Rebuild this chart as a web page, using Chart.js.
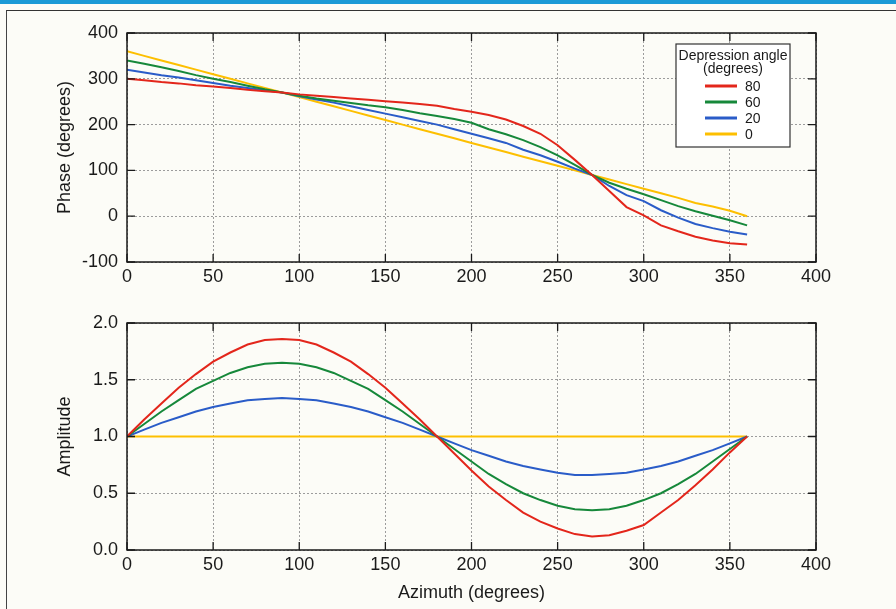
<!DOCTYPE html>
<html>
<head>
<meta charset="utf-8">
<script src="https://cdn.jsdelivr.net/npm/chart.js@4"></script>
<style>
  body { margin: 0; background: #fcfcf7; width: 896px; height: 609px; overflow: hidden; position: relative; }
  #strip { position: absolute; left: 0; top: 0; width: 896px; height: 4px; background: #1b9ad6; }
  #frame { position: absolute; left: 6px; top: 10px; width: 900px; height: 610px;
           border-left: 1.5px solid #444; border-top: 1.5px solid #333; }
  canvas { position: absolute; left: 0; }
  #phase { top: 0; }
  #amp { top: 300px; }
</style>
</head>
<body>
<div id="strip"></div>
<div id="frame"></div>
<canvas id="phase" width="896" height="300"></canvas>
<canvas id="amp" width="896" height="309"></canvas>
<script>
// azimut 0..360 ทุก 10 องศา
const azimuth = [0,10,20,30,40,50,60,70,80,90,100,110,120,130,140,150,160,170,180,
  190,200,210,220,230,240,250,260,270,280,290,300,310,320,330,340,350,360];

const angleLabels = ['80', '60', '20', '0'];
const lineColors = ['#e3261b', '#16883a', '#2a5cc8', '#fdbf00'];

// เฟส (องศา)
const phase80 = [300,297,293,290,286,283,280,276,273,270,266,263,260,257,254,251,248,245,241,
  234,228,221,211,197,180,155,123,90,55,20,2,-20,-33,-45,-53,-59,-62];
const phase60 = [340,333,325,317,308,300,293,285,277,270,263,257,252,247,242,238,232,225,219,
  212,204,190,179,166,151,133,112,90,73,60,48,35,22,11,1,-9,-20];
const phase20 = [320,314,308,303,297,291,285,280,275,270,262,255,248,240,232,224,216,208,200,
  190,180,170,160,145,133,119,104,90,66,46,33,13,-3,-17,-26,-34,-40];
const phase0 = [360,350,340,330,320,310,300,290,280,270,260,250,240,230,220,210,200,190,180,
  170,160,150,140,130,120,110,100,90,80,70,60,50,40,29,21,12,0];

// แอมพลิจูด
const amp80 = [1.00,1.15,1.29,1.43,1.55,1.66,1.74,1.81,1.85,1.86,1.85,1.81,1.74,1.66,1.55,1.43,1.29,1.15,1.00,
  0.85,0.70,0.56,0.44,0.33,0.25,0.19,0.14,0.12,0.13,0.17,0.22,0.33,0.44,0.57,0.71,0.86,1.00];
const amp60 = [1.00,1.11,1.22,1.32,1.42,1.49,1.56,1.61,1.64,1.65,1.64,1.61,1.56,1.49,1.42,1.32,1.22,1.11,1.00,
  0.89,0.78,0.67,0.58,0.50,0.44,0.39,0.36,0.35,0.36,0.39,0.44,0.50,0.58,0.67,0.78,0.89,1.00];
const amp20 = [1.00,1.06,1.12,1.17,1.22,1.26,1.29,1.32,1.33,1.34,1.33,1.32,1.29,1.26,1.22,1.17,1.12,1.06,1.00,
  0.94,0.88,0.83,0.78,0.74,0.71,0.68,0.66,0.66,0.67,0.68,0.71,0.74,0.78,0.83,0.88,0.94,1.00];
const amp0 = [1,1,1,1,1,1,1,1,1,1,1,1,1,1,1,1,1,1,1,1,1,1,1,1,1,1,1,1,1,1,1,1,1,1,1,1,1];

const phaseSeries = [phase80, phase60, phase20, phase0];
const ampSeries = [amp80, amp60, amp20, amp0];

const FONT = 'Liberation Sans, Arial, Helvetica, sans-serif';
Chart.defaults.font.family = FONT;
Chart.defaults.color = '#1a1a1a';

function makeDatasets(series) {
  return series.map((vals, i) => ({
    label: angleLabels[i],
    data: vals.map((v, k) => ({ x: azimuth[k], y: v })),
    borderColor: lineColors[i],
    borderWidth: 2,
    pointRadius: 0,
    tension: 0,
    fill: false
  }));
}

// กรอบพื้นที่กราฟ + ขีด tick ด้านใน
const boxPlugin = {
  id: 'box',
  afterDatasetsDraw(chart) {
    const { ctx, chartArea: a, scales } = chart;
    ctx.save();
    ctx.strokeStyle = '#1a1a1a';
    ctx.lineWidth = 1.5;
    ctx.strokeRect(a.left, a.top, a.right - a.left, a.bottom - a.top);
    ctx.lineWidth = 1.3;
    const len = 8;
    ctx.beginPath();
    scales.x.ticks.forEach((t, i) => {
      const px = scales.x.getPixelForTick(i);
      ctx.moveTo(px, a.bottom); ctx.lineTo(px, a.bottom - len);
      ctx.moveTo(px, a.top); ctx.lineTo(px, a.top + len);
    });
    scales.y.ticks.forEach((t, i) => {
      const py = scales.y.getPixelForTick(i);
      ctx.moveTo(a.left, py); ctx.lineTo(a.left + len, py);
      ctx.moveTo(a.right, py); ctx.lineTo(a.right - len, py);
    });
    ctx.stroke();
    ctx.restore();
  }
};

// กล่อง legend แบบในรูปต้นฉบับ
const legendBox = {
  id: 'legendBox',
  afterDraw(chart) {
    const { ctx } = chart;
    const x0 = 676, y0 = 44, w = 114, h = 103;
    ctx.save();
    ctx.fillStyle = '#ffffff';
    ctx.fillRect(x0, y0, w, h);
    ctx.strokeStyle = '#333';
    ctx.lineWidth = 1.2;
    ctx.strokeRect(x0, y0, w, h);
    ctx.fillStyle = '#1a1a1a';
    ctx.font = '14px ' + FONT;
    ctx.textAlign = 'center';
    ctx.textBaseline = 'middle';
    ctx.fillText('Depression angle', x0 + w / 2, 56);
    ctx.fillText('(degrees)', x0 + w / 2, 69);
    ctx.textAlign = 'left';
    chart.data.datasets.forEach((ds, i) => {
      const y = 86 + i * 16;
      ctx.strokeStyle = ds.borderColor;
      ctx.lineWidth = 3;
      ctx.beginPath();
      ctx.moveTo(705, y); ctx.lineTo(737, y);
      ctx.stroke();
      ctx.fillText(ds.label, 745, y + 1);
    });
    ctx.restore();
  }
};

function makeOptions(cfg) {
  return {
    responsive: false,
    animation: false,
    layout: { padding: { top: cfg.top, right: 80, left: 0, bottom: 0 } },
    plugins: { legend: { display: false }, tooltip: { enabled: false } },
    scales: {
      x: {
        type: 'linear', min: 0, max: 400,
        ticks: { stepSize: 50, padding: 4, font: { size: 18 }, color: '#1a1a1a' },
        grid: { color: '#9c9c9c', lineWidth: 1, drawTicks: false },
        border: { display: false, dash: [2, 2] },
        title: cfg.xTitle ? { display: true, text: cfg.xTitle, font: { size: 18 }, padding: { top: 0, bottom: 5 }, color: '#1a1a1a' } : { display: false },
        afterFit(s) { s.height = cfg.xHeight; }
      },
      y: {
        min: cfg.min, max: cfg.max,
        ticks: { stepSize: cfg.step, padding: 9, font: { size: 18 }, color: '#1a1a1a',
                 callback: cfg.fmt },
        grid: { color: '#9c9c9c', lineWidth: 1, drawTicks: false },
        border: { display: false, dash: [2, 2] },
        title: { display: true, text: cfg.yTitle, font: { size: 18 }, padding: { top: 54, bottom: 0 }, color: '#1a1a1a' },
        afterFit(s) { s.width = 127; }
      }
    }
  };
}

new Chart(document.getElementById('phase'), {
  type: 'line',
  data: { datasets: makeDatasets(phaseSeries) },
  options: makeOptions({ top: 33, xHeight: 38, min: -100, max: 400, step: 100,
    yTitle: 'Phase (degrees)', fmt: v => v }),
  plugins: [boxPlugin, legendBox]
});

new Chart(document.getElementById('amp'), {
  type: 'line',
  data: { datasets: makeDatasets(ampSeries) },
  options: makeOptions({ top: 23, xHeight: 59, min: 0, max: 2, step: 0.5,
    yTitle: 'Amplitude', xTitle: 'Azimuth (degrees)', fmt: v => v.toFixed(1) }),
  plugins: [boxPlugin]
});
</script>
</body>
</html>
